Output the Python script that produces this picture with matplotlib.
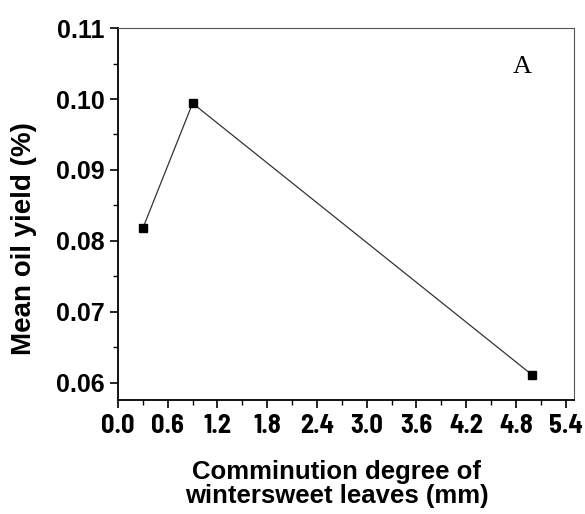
import matplotlib
matplotlib.use('Agg')
import matplotlib.pyplot as plt
from matplotlib.ticker import MultipleLocator

# data
size_mm = [0.3, 0.9, 5.0]
oil_yield = [0.0818, 0.0994, 0.0611]
x_ticks = [0.0, 0.6, 1.2, 1.8, 2.4, 3.0, 3.6, 4.2, 4.8, 5.4]
y_ticks = [0.06, 0.07, 0.08, 0.09, 0.10, 0.11]

fig = plt.figure(figsize=(5.85, 5.14), dpi=100)
ax = fig.add_axes([0.2017, 0.2218, 0.7793, 0.7237])

ax.plot(size_mm, oil_yield, color='#333333', lw=0.9, marker='s', ms=6,
        mfc='black', mec='black')

ax.set_xlim(0, 5.5)
ax.set_ylim(0.0576, 0.11)
ax.set_xticks(x_ticks)
ax.set_xticklabels(['%.1f' % v for v in x_ticks])
ax.set_yticks(y_ticks)
ax.set_yticklabels(['%.2f' % v for v in y_ticks])
ax.xaxis.set_minor_locator(MultipleLocator(0.3))
ax.yaxis.set_minor_locator(MultipleLocator(0.005))

ax.tick_params(which='major', direction='out', length=6, width=1.2, top=False, right=False)
ax.tick_params(which='minor', direction='out', length=3.5, width=1.0, top=False, right=False)
ax.tick_params(axis='x', pad=4)
for lab in ax.get_xticklabels():
    lab.set_family(['Barlow Semi Condensed', 'Liberation Sans'])
    lab.set_fontweight('bold')
    lab.set_fontsize(19)
for lab in ax.get_yticklabels():
    lab.set_family('Liberation Sans')
    lab.set_fontweight('bold')
    lab.set_fontsize(18)

for side in ['left', 'bottom']:
    ax.spines[side].set_linewidth(1.3)
for side in ['top', 'right']:
    ax.spines[side].set_linewidth(0.8)
    ax.spines[side].set_color('#555555')

ax.set_ylabel('Mean oil yield (%)', family='Liberation Sans', fontweight='bold',
              fontsize=20)
ax.yaxis.set_label_coords(-0.178, 0.435)
ax.set_xlabel('Comminution degree of\nwintersweet leaves (mm)', family='Liberation Sans',
              fontweight='bold', fontsize=18.5, linespacing=1.05)
ax.xaxis.set_label_coords(0.48, -0.16)

ax.text(0.886, 0.895, 'A', transform=ax.transAxes, family='Liberation Serif',
        fontsize=19, ha='center', va='center')

fig.savefig('out.png', dpi=100)
